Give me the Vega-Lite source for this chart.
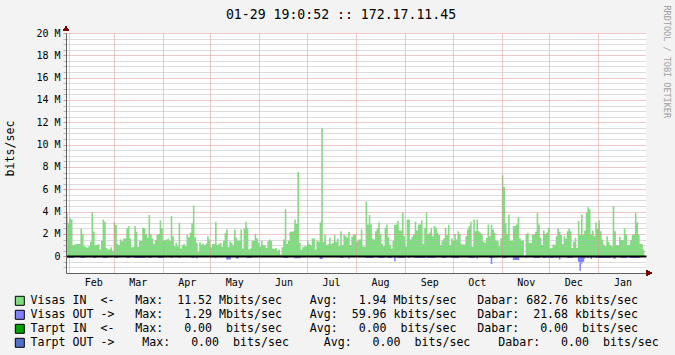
{
"$schema": "https://vega.github.io/schema/vega-lite/v6.json",
"width": 580, "height": 240,
"autosize": {"type": "none"},
"padding": {"left": 66, "top": 33, "right": 29, "bottom": 82},
"background": "#f3f3f3",
"config": {"view": {"fill": "#ffffff", "stroke": null}, "font": "DejaVu Sans Mono"},
"title": {"text": "01-29 19:0:52 :: 172.17.11.45", "font": "DejaVu Sans Mono", "fontSize": 13.2, "fontWeight": "normal", "color": "#000000", "anchor": "middle", "frame": "group", "baseline": "alphabetic", "offset": 0, "dx": -15, "dy": 27},
"data": {"values": [
{"date":"2010-01-30","in":3.9,"out":-0.02},{"date":"2010-01-31","in":3.0,"out":-0.15},
{"date":"2010-02-01","in":3.4,"out":-0.15},{"date":"2010-02-02","in":3.3,"out":-0.15},{"date":"2010-02-03","in":1.0,"out":-0.15},{"date":"2010-02-04","in":1.05,"out":-0.02},{"date":"2010-02-05","in":1.1,"out":-0.02},{"date":"2010-02-06","in":1.1,"out":-0.02},{"date":"2010-02-07","in":1.1,"out":-0.02},{"date":"2010-02-08","in":2.45,"out":-0.15},{"date":"2010-02-09","in":2.0,"out":-0.15},{"date":"2010-02-10","in":0.9,"out":-0.15},{"date":"2010-02-11","in":0.85,"out":-0.02},{"date":"2010-02-12","in":0.75,"out":-0.02},{"date":"2010-02-13","in":0.9,"out":-0.02},{"date":"2010-02-14","in":1.3,"out":-0.02},{"date":"2010-02-15","in":3.95,"out":-0.02},{"date":"2010-02-16","in":2.2,"out":-0.15},{"date":"2010-02-17","in":1.0,"out":-0.15},{"date":"2010-02-18","in":1.0,"out":-0.02},{"date":"2010-02-19","in":1.1,"out":-0.02},{"date":"2010-02-20","in":0.6,"out":-0.02},{"date":"2010-02-21","in":1.4,"out":-0.02},{"date":"2010-02-22","in":3.3,"out":-0.15},{"date":"2010-02-23","in":3.1,"out":-0.15},{"date":"2010-02-24","in":0.75,"out":-0.15},{"date":"2010-02-25","in":0.6,"out":-0.02},{"date":"2010-02-26","in":0.6,"out":-0.02},{"date":"2010-02-27","in":0.8,"out":-0.02},{"date":"2010-02-28","in":0.5,"out":-0.02},
{"date":"2010-03-01","in":3.05,"out":-0.02},{"date":"2010-03-02","in":2.8,"out":-0.15},{"date":"2010-03-03","in":1.1,"out":-0.15},{"date":"2010-03-04","in":1.0,"out":-0.02},{"date":"2010-03-05","in":1.5,"out":-0.02},{"date":"2010-03-06","in":1.35,"out":-0.02},{"date":"2010-03-07","in":1.6,"out":-0.02},{"date":"2010-03-08","in":1.6,"out":-0.02},{"date":"2010-03-09","in":2.5,"out":-0.15},{"date":"2010-03-10","in":2.7,"out":-0.15},{"date":"2010-03-11","in":1.6,"out":-0.02},{"date":"2010-03-12","in":0.8,"out":-0.02},{"date":"2010-03-13","in":0.85,"out":-0.02},{"date":"2010-03-14","in":2.7,"out":-0.15},{"date":"2010-03-15","in":2.2,"out":-0.15},{"date":"2010-03-16","in":0.85,"out":-0.15},{"date":"2010-03-17","in":1.4,"out":-0.15},{"date":"2010-03-18","in":1.4,"out":-0.15},{"date":"2010-03-19","in":2.55,"out":-0.15},{"date":"2010-03-20","in":2.5,"out":-0.15},{"date":"2010-03-21","in":2.0,"out":-0.02},{"date":"2010-03-22","in":1.65,"out":-0.02},{"date":"2010-03-23","in":3.7,"out":-0.15},{"date":"2010-03-24","in":2.0,"out":-0.15},{"date":"2010-03-25","in":1.6,"out":-0.02},{"date":"2010-03-26","in":1.1,"out":-0.02},{"date":"2010-03-27","in":1.45,"out":-0.02},{"date":"2010-03-28","in":1.9,"out":-0.02},{"date":"2010-03-29","in":2.0,"out":-0.15},{"date":"2010-03-30","in":3.2,"out":-0.15},{"date":"2010-03-31","in":2.5,"out":-0.15},
{"date":"2010-04-01","in":1.4,"out":-0.02},{"date":"2010-04-02","in":1.45,"out":-0.02},{"date":"2010-04-03","in":1.5,"out":-0.02},{"date":"2010-04-04","in":1.6,"out":-0.02},{"date":"2010-04-05","in":1.4,"out":-0.02},{"date":"2010-04-06","in":3.6,"out":-0.15},{"date":"2010-04-07","in":1.8,"out":-0.02},{"date":"2010-04-08","in":0.9,"out":-0.02},{"date":"2010-04-09","in":1.2,"out":-0.02},{"date":"2010-04-10","in":0.9,"out":-0.02},{"date":"2010-04-11","in":3.0,"out":-0.15},{"date":"2010-04-12","in":0.7,"out":-0.02},{"date":"2010-04-13","in":1.0,"out":-0.02},{"date":"2010-04-14","in":1.1,"out":-0.02},{"date":"2010-04-15","in":0.9,"out":-0.02},{"date":"2010-04-16","in":1.9,"out":-0.02},{"date":"2010-04-17","in":1.7,"out":-0.02},{"date":"2010-04-18","in":2.1,"out":-0.02},{"date":"2010-04-19","in":2.95,"out":-0.15},{"date":"2010-04-20","in":4.55,"out":-0.15},{"date":"2010-04-21","in":1.7,"out":-0.02},{"date":"2010-04-22","in":1.2,"out":-0.2},{"date":"2010-04-23","in":0.4,"out":-0.02},{"date":"2010-04-24","in":1.25,"out":-0.02},{"date":"2010-04-25","in":1.05,"out":-0.02},{"date":"2010-04-26","in":1.15,"out":-0.02},{"date":"2010-04-27","in":1.0,"out":-0.02},{"date":"2010-04-28","in":1.15,"out":-0.02},{"date":"2010-04-29","in":1.8,"out":-0.02},{"date":"2010-04-30","in":1.5,"out":-0.02},
{"date":"2010-05-01","in":0.8,"out":-0.02},{"date":"2010-05-02","in":1.1,"out":-0.02},{"date":"2010-05-03","in":1.1,"out":-0.02},{"date":"2010-05-04","in":3.1,"out":-0.15},{"date":"2010-05-05","in":1.0,"out":-0.02},{"date":"2010-05-06","in":1.1,"out":-0.02},{"date":"2010-05-07","in":1.2,"out":-0.02},{"date":"2010-05-08","in":0.85,"out":-0.02},{"date":"2010-05-09","in":1.4,"out":-0.02},{"date":"2010-05-10","in":2.05,"out":-0.02},{"date":"2010-05-11","in":2.4,"out":-0.3},{"date":"2010-05-12","in":0.8,"out":-0.3},{"date":"2010-05-13","in":1.35,"out":-0.3},{"date":"2010-05-14","in":1.2,"out":-0.02},{"date":"2010-05-15","in":1.0,"out":-0.02},{"date":"2010-05-16","in":2.4,"out":-0.02},{"date":"2010-05-17","in":1.65,"out":-0.2},{"date":"2010-05-18","in":1.4,"out":-0.2},{"date":"2010-05-19","in":1.4,"out":-0.02},{"date":"2010-05-20","in":2.4,"out":-0.02},{"date":"2010-05-21","in":0.7,"out":-0.02},{"date":"2010-05-22","in":2.5,"out":-0.02},{"date":"2010-05-23","in":3.1,"out":-0.02},{"date":"2010-05-24","in":2.55,"out":-0.15},{"date":"2010-05-25","in":0.6,"out":-0.15},{"date":"2010-05-26","in":0.7,"out":-0.15},{"date":"2010-05-27","in":1.4,"out":-0.02},{"date":"2010-05-28","in":1.4,"out":-0.02},{"date":"2010-05-29","in":2.0,"out":-0.02},{"date":"2010-05-30","in":1.6,"out":-0.02},{"date":"2010-05-31","in":1.2,"out":-0.02},
{"date":"2010-06-01","in":0.85,"out":-0.02},{"date":"2010-06-02","in":1.4,"out":-0.02},{"date":"2010-06-03","in":1.0,"out":-0.02},{"date":"2010-06-04","in":1.0,"out":-0.02},{"date":"2010-06-05","in":0.75,"out":-0.02},{"date":"2010-06-06","in":1.35,"out":-0.02},{"date":"2010-06-07","in":1.5,"out":-0.02},{"date":"2010-06-08","in":1.4,"out":-0.02},{"date":"2010-06-09","in":0.7,"out":-0.02},{"date":"2010-06-10","in":0.65,"out":-0.02},{"date":"2010-06-11","in":0.75,"out":-0.02},{"date":"2010-06-12","in":0.5,"out":-0.02},{"date":"2010-06-13","in":0.6,"out":-0.02},{"date":"2010-06-14","in":0.15,"out":-0.02},{"date":"2010-06-15","in":0.8,"out":-0.02},{"date":"2010-06-16","in":1.5,"out":-0.15},{"date":"2010-06-17","in":4.2,"out":-0.15},{"date":"2010-06-18","in":1.1,"out":-0.15},{"date":"2010-06-19","in":1.4,"out":-0.02},{"date":"2010-06-20","in":2.2,"out":-0.02},{"date":"2010-06-21","in":2.2,"out":-0.02},{"date":"2010-06-22","in":2.25,"out":-0.02},{"date":"2010-06-23","in":3.3,"out":-0.18},{"date":"2010-06-24","in":2.9,"out":-0.18},{"date":"2010-06-25","in":7.55,"out":-0.18},{"date":"2010-06-26","in":1.2,"out":-0.18},{"date":"2010-06-27","in":0.55,"out":-0.02},{"date":"2010-06-28","in":0.8,"out":-0.02},{"date":"2010-06-29","in":0.9,"out":-0.02},{"date":"2010-06-30","in":0.9,"out":-0.02},
{"date":"2010-07-01","in":1.4,"out":-0.02},{"date":"2010-07-02","in":1.1,"out":-0.02},{"date":"2010-07-03","in":1.0,"out":-0.02},{"date":"2010-07-04","in":1.6,"out":-0.02},{"date":"2010-07-05","in":1.6,"out":-0.02},{"date":"2010-07-06","in":0.6,"out":-0.02},{"date":"2010-07-07","in":1.4,"out":-0.02},{"date":"2010-07-08","in":1.3,"out":-0.02},{"date":"2010-07-09","in":3.05,"out":-0.25},{"date":"2010-07-10","in":11.52,"out":-0.25},{"date":"2010-07-11","in":1.3,"out":-0.02},{"date":"2010-07-12","in":1.95,"out":-0.02},{"date":"2010-07-13","in":1.0,"out":-0.02},{"date":"2010-07-14","in":1.1,"out":-0.02},{"date":"2010-07-15","in":1.65,"out":-0.02},{"date":"2010-07-16","in":1.1,"out":-0.02},{"date":"2010-07-17","in":1.2,"out":-0.02},{"date":"2010-07-18","in":1.9,"out":-0.02},{"date":"2010-07-19","in":1.3,"out":-0.02},{"date":"2010-07-20","in":1.6,"out":-0.02},{"date":"2010-07-21","in":0.9,"out":-0.02},{"date":"2010-07-22","in":2.25,"out":-0.15},{"date":"2010-07-23","in":1.0,"out":-0.15},{"date":"2010-07-24","in":1.9,"out":-0.02},{"date":"2010-07-25","in":1.8,"out":-0.02},{"date":"2010-07-26","in":1.65,"out":-0.02},{"date":"2010-07-27","in":2.2,"out":-0.2},{"date":"2010-07-28","in":1.0,"out":-0.02},{"date":"2010-07-29","in":1.75,"out":-0.02},{"date":"2010-07-30","in":1.95,"out":-0.02},{"date":"2010-07-31","in":1.95,"out":-0.02},
{"date":"2010-08-01","in":1.3,"out":-0.02},{"date":"2010-08-02","in":1.5,"out":-0.02},{"date":"2010-08-03","in":1.5,"out":-0.02},{"date":"2010-08-04","in":2.4,"out":-0.02},{"date":"2010-08-05","in":0.9,"out":-0.02},{"date":"2010-08-06","in":0.85,"out":-0.02},{"date":"2010-08-07","in":4.9,"out":-0.15},{"date":"2010-08-08","in":2.85,"out":-0.15},{"date":"2010-08-09","in":3.7,"out":-0.15},{"date":"2010-08-10","in":2.85,"out":-0.15},{"date":"2010-08-11","in":1.6,"out":-0.15},{"date":"2010-08-12","in":1.5,"out":-0.02},{"date":"2010-08-13","in":2.25,"out":-0.02},{"date":"2010-08-14","in":2.5,"out":-0.02},{"date":"2010-08-15","in":3.05,"out":-0.15},{"date":"2010-08-16","in":2.0,"out":-0.15},{"date":"2010-08-17","in":1.1,"out":-0.15},{"date":"2010-08-18","in":0.9,"out":-0.15},{"date":"2010-08-19","in":2.55,"out":-0.02},{"date":"2010-08-20","in":2.85,"out":-0.02},{"date":"2010-08-21","in":1.7,"out":-0.15},{"date":"2010-08-22","in":1.05,"out":-0.15},{"date":"2010-08-23","in":0.7,"out":-0.15},{"date":"2010-08-24","in":1.4,"out":-0.02},{"date":"2010-08-25","in":2.8,"out":-0.45},{"date":"2010-08-26","in":2.85,"out":-0.02},{"date":"2010-08-27","in":3.15,"out":-0.15},{"date":"2010-08-28","in":2.3,"out":-0.15},{"date":"2010-08-29","in":2.3,"out":-0.15},{"date":"2010-08-30","in":3.9,"out":-0.15},{"date":"2010-08-31","in":1.8,"out":-0.15},
{"date":"2010-09-01","in":0.85,"out":-0.02},{"date":"2010-09-02","in":3.3,"out":-0.02},{"date":"2010-09-03","in":3.3,"out":-0.15},{"date":"2010-09-04","in":1.5,"out":-0.02},{"date":"2010-09-05","in":1.75,"out":-0.02},{"date":"2010-09-06","in":1.95,"out":-0.02},{"date":"2010-09-07","in":3.1,"out":-0.15},{"date":"2010-09-08","in":2.3,"out":-0.15},{"date":"2010-09-09","in":2.85,"out":-0.15},{"date":"2010-09-10","in":2.85,"out":-0.15},{"date":"2010-09-11","in":3.2,"out":-0.15},{"date":"2010-09-12","in":1.1,"out":-0.15},{"date":"2010-09-13","in":2.55,"out":-0.15},{"date":"2010-09-14","in":3.9,"out":-0.02},{"date":"2010-09-15","in":2.0,"out":-0.15},{"date":"2010-09-16","in":2.1,"out":-0.15},{"date":"2010-09-17","in":2.55,"out":-0.15},{"date":"2010-09-18","in":1.8,"out":-0.15},{"date":"2010-09-19","in":2.7,"out":-0.15},{"date":"2010-09-20","in":2.55,"out":-0.02},{"date":"2010-09-21","in":2.1,"out":-0.02},{"date":"2010-09-22","in":1.9,"out":-0.02},{"date":"2010-09-23","in":1.0,"out":-0.02},{"date":"2010-09-24","in":1.4,"out":-0.15},{"date":"2010-09-25","in":1.6,"out":-0.15},{"date":"2010-09-26","in":2.55,"out":-0.15},{"date":"2010-09-27","in":1.9,"out":-0.02},{"date":"2010-09-28","in":2.8,"out":-0.02},{"date":"2010-09-29","in":1.0,"out":-0.02},{"date":"2010-09-30","in":1.6,"out":-0.15},
{"date":"2010-10-01","in":1.4,"out":-0.15},{"date":"2010-10-02","in":2.0,"out":-0.15},{"date":"2010-10-03","in":1.5,"out":-0.15},{"date":"2010-10-04","in":2.25,"out":-0.15},{"date":"2010-10-05","in":2.0,"out":-0.02},{"date":"2010-10-06","in":1.1,"out":-0.02},{"date":"2010-10-07","in":1.05,"out":-0.02},{"date":"2010-10-08","in":1.05,"out":-0.02},{"date":"2010-10-09","in":1.8,"out":-0.02},{"date":"2010-10-10","in":2.4,"out":-0.02},{"date":"2010-10-11","in":2.7,"out":-0.15},{"date":"2010-10-12","in":3.1,"out":-0.15},{"date":"2010-10-13","in":0.85,"out":-0.15},{"date":"2010-10-14","in":3.3,"out":-0.15},{"date":"2010-10-15","in":2.25,"out":-0.02},{"date":"2010-10-16","in":3.3,"out":-0.2},{"date":"2010-10-17","in":2.25,"out":-0.02},{"date":"2010-10-18","in":2.1,"out":-0.02},{"date":"2010-10-19","in":1.95,"out":-0.02},{"date":"2010-10-20","in":1.3,"out":-0.02},{"date":"2010-10-21","in":1.2,"out":-0.02},{"date":"2010-10-22","in":1.65,"out":-0.02},{"date":"2010-10-23","in":2.85,"out":-0.02},{"date":"2010-10-24","in":1.8,"out":-0.15},{"date":"2010-10-25","in":2.8,"out":-0.7},{"date":"2010-10-26","in":2.4,"out":-0.15},{"date":"2010-10-27","in":2.1,"out":-0.02},{"date":"2010-10-28","in":1.4,"out":-0.02},{"date":"2010-10-29","in":1.4,"out":-0.02},{"date":"2010-10-30","in":0.9,"out":-0.02},{"date":"2010-10-31","in":1.6,"out":-0.02},
{"date":"2010-11-01","in":7.25,"out":-0.15},{"date":"2010-11-02","in":6.2,"out":-0.15},{"date":"2010-11-03","in":3.0,"out":-0.15},{"date":"2010-11-04","in":1.95,"out":-0.02},{"date":"2010-11-05","in":3.75,"out":-0.02},{"date":"2010-11-06","in":1.4,"out":-0.02},{"date":"2010-11-07","in":1.4,"out":-0.02},{"date":"2010-11-08","in":2.7,"out":-0.33},{"date":"2010-11-09","in":2.7,"out":-0.33},{"date":"2010-11-10","in":2.85,"out":-0.33},{"date":"2010-11-11","in":3.5,"out":-0.33},{"date":"2010-11-12","in":1.6,"out":-0.02},{"date":"2010-11-13","in":1.4,"out":-0.02},{"date":"2010-11-14","in":1.4,"out":-0.02},{"date":"2010-11-15","in":0,"out":0},{"date":"2010-11-16","in":2.0,"out":-0.15},{"date":"2010-11-17","in":2.1,"out":-0.02},{"date":"2010-11-18","in":1.2,"out":-0.02},{"date":"2010-11-19","in":1.2,"out":-0.02},{"date":"2010-11-20","in":1.95,"out":-0.02},{"date":"2010-11-21","in":1.95,"out":-0.15},{"date":"2010-11-22","in":2.2,"out":-0.15},{"date":"2010-11-23","in":3.9,"out":-0.15},{"date":"2010-11-24","in":2.85,"out":-0.15},{"date":"2010-11-25","in":1.65,"out":-0.02},{"date":"2010-11-26","in":1.0,"out":-0.02},{"date":"2010-11-27","in":2.3,"out":-0.15},{"date":"2010-11-28","in":2.0,"out":-0.15},{"date":"2010-11-29","in":2.1,"out":-0.02},{"date":"2010-11-30","in":2.55,"out":-0.15},
{"date":"2010-12-01","in":0.7,"out":-0.15},{"date":"2010-12-02","in":0.75,"out":-0.15},{"date":"2010-12-03","in":1.05,"out":-0.15},{"date":"2010-12-04","in":1.0,"out":-0.02},{"date":"2010-12-05","in":1.8,"out":-0.15},{"date":"2010-12-06","in":2.5,"out":-0.02},{"date":"2010-12-07","in":2.2,"out":-0.3},{"date":"2010-12-08","in":1.9,"out":-0.02},{"date":"2010-12-09","in":1.1,"out":-0.02},{"date":"2010-12-10","in":1.8,"out":-0.02},{"date":"2010-12-11","in":1.6,"out":-0.02},{"date":"2010-12-12","in":2.25,"out":-0.15},{"date":"2010-12-13","in":2.5,"out":-0.15},{"date":"2010-12-14","in":2.25,"out":-0.15},{"date":"2010-12-15","in":0.75,"out":-0.15},{"date":"2010-12-16","in":1.3,"out":-0.02},{"date":"2010-12-17","in":1.65,"out":-0.02},{"date":"2010-12-18","in":0.75,"out":-0.02},{"date":"2010-12-19","in":3.15,"out":-0.5},{"date":"2010-12-20","in":1.9,"out":-1.29},{"date":"2010-12-21","in":3.75,"out":-0.65},{"date":"2010-12-22","in":1.95,"out":-0.5},{"date":"2010-12-23","in":2.3,"out":-0.2},{"date":"2010-12-24","in":3.9,"out":-0.02},{"date":"2010-12-25","in":4.4,"out":-0.15},{"date":"2010-12-26","in":4.2,"out":-0.02},{"date":"2010-12-27","in":1.95,"out":-0.25},{"date":"2010-12-28","in":2.3,"out":-0.02},{"date":"2010-12-29","in":1.8,"out":-0.02},{"date":"2010-12-30","in":3.05,"out":-0.15},{"date":"2010-12-31","in":2.5,"out":-0.15},
{"date":"2011-01-01","in":3.2,"out":-0.15},{"date":"2011-01-02","in":2.25,"out":-0.15},{"date":"2011-01-03","in":1.5,"out":-0.15},{"date":"2011-01-04","in":1.05,"out":-0.15},{"date":"2011-01-05","in":0.9,"out":-0.15},{"date":"2011-01-06","in":1.8,"out":-0.15},{"date":"2011-01-07","in":1.3,"out":-0.15},{"date":"2011-01-08","in":1.0,"out":-0.15},{"date":"2011-01-09","in":0.9,"out":-0.02},{"date":"2011-01-10","in":4.5,"out":-0.2},{"date":"2011-01-11","in":2.25,"out":-0.2},{"date":"2011-01-12","in":1.0,"out":-0.02},{"date":"2011-01-13","in":1.0,"out":-0.02},{"date":"2011-01-14","in":1.75,"out":-0.02},{"date":"2011-01-15","in":1.45,"out":-0.15},{"date":"2011-01-16","in":1.45,"out":-0.15},{"date":"2011-01-17","in":2.5,"out":-0.15},{"date":"2011-01-18","in":1.95,"out":-0.15},{"date":"2011-01-19","in":1.0,"out":-0.02},{"date":"2011-01-20","in":1.0,"out":-0.02},{"date":"2011-01-21","in":1.45,"out":-0.15},{"date":"2011-01-22","in":1.95,"out":-0.15},{"date":"2011-01-23","in":1.95,"out":-0.15},{"date":"2011-01-24","in":3.9,"out":-0.15},{"date":"2011-01-25","in":3.05,"out":-0.15},{"date":"2011-01-26","in":1.95,"out":-0.15},{"date":"2011-01-27","in":1.1,"out":-0.02},{"date":"2011-01-28","in":1.1,"out":-0.02},{"date":"2011-01-29","in":0.6,"out":-0.02},{"date":"2011-01-30","in":0.6,"out":-0.02}
]},
"transform": [{"fold": ["in", "out"], "as": ["series", "value"]}],
"resolve": {"axis": {"y": "independent"}},
"layer": [
{
"mark": {"type": "area", "interpolate": "step-after", "opacity": 1, "clip": true},
"encoding": {
"x": {"field": "date", "type": "temporal",
 "scale": {"type": "utc", "domain": [{"year": 2010, "month": 1, "date": 29, "hours": 22, "utc": true}, {"year": 2011, "month": 1, "date": 31, "hours": 0, "minutes": 30, "utc": true}]},
 "axis": {"orient": "bottom", "tickCount": {"interval": "month", "step": 1}, "format": "%b", "labelOffset": 24, "labelFont": "DejaVu Sans Mono", "labelFontSize": 10, "labelColor": "#000000", "labelPadding": 4, "labelFlush": false, "labelOverlap": false, "ticks": false, "domain": true, "domainColor": "#606060", "grid": true, "gridColor": "#e09090", "gridDash": [1, 1], "title": null, "zindex": 1}},
"y": {"field": "value", "type": "quantitative", "stack": null,
 "scale": {"domain": [-1.5, 20], "nice": false, "zero": false},
 "axis": {"orient": "left", "values": [0, 2, 4, 6, 8, 10, 12, 14, 16, 18, 20], "labelExpr": "datum.value == 0 ? '0' : datum.value + ' M'", "labelFont": "DejaVu Sans Mono", "labelFontSize": 10, "labelColor": "#000000", "labelPadding": 3, "ticks": true, "tickSize": 3, "tickColor": "#e09090", "domain": true, "domainColor": "#606060", "grid": true,
  "gridColor": {"condition": {"test": "datum.value === 0", "value": "#000000"}, "value": "#e09090"},
  "gridDash": {"condition": {"test": "datum.value === 0", "value": []}, "value": [1, 1]},
  "gridWidth": {"condition": {"test": "datum.value === 0", "value": 2}, "value": 1},
  "title": "bits/sec", "titleFont": "DejaVu Sans Mono", "titleFontSize": 11.6, "titleFontWeight": "normal", "titleColor": "#000000", "titleX": -56, "titleY": 115, "titleAngle": -90, "titleAlign": "center", "titleBaseline": "middle", "zindex": 2}},
"color": {"field": "series", "type": "nominal",
 "scale": {"domain": ["in", "out", "tin", "tout"], "range": ["#7fdc7f", "#8080ff", "#00a000", "#5070c8"]},
 "legend": {"orient": "none", "legendX": -52, "legendY": 262, "direction": "vertical", "title": null, "padding": 0, "symbolType": "square", "symbolSize": 81, "symbolStrokeColor": "#000000", "symbolStrokeWidth": 1, "symbolOpacity": 1, "labelFont": "DejaVu Sans Mono", "labelFontSize": 11.6, "labelColor": "#000000", "labelLimit": 900, "labelOffset": 5, "rowPadding": 0,
  "labelExpr": "datum.value == 'in' ? 'Visas\u00a0IN\u00a0\u00a0<-\u00a0\u00a0\u00a0Max:\u00a0\u00a011.52\u00a0Mbits/sec\u00a0\u00a0\u00a0\u00a0Avg:\u00a0\u00a0\u00a01.94\u00a0Mbits/sec\u00a0\u00a0\u00a0Dabar:\u00a0682.76\u00a0kbits/sec' : datum.value == 'out' ? 'Visas\u00a0OUT\u00a0->\u00a0\u00a0\u00a0Max:\u00a0\u00a0\u00a01.29\u00a0Mbits/sec\u00a0\u00a0\u00a0\u00a0Avg:\u00a0\u00a059.96\u00a0kbits/sec\u00a0\u00a0\u00a0Dabar:\u00a0\u00a021.68\u00a0kbits/sec' : datum.value == 'tin' ? 'Tarpt\u00a0IN\u00a0\u00a0<-\u00a0\u00a0\u00a0Max:\u00a0\u00a0\u00a00.00\u00a0\u00a0bits/sec\u00a0\u00a0\u00a0\u00a0Avg:\u00a0\u00a0\u00a00.00\u00a0\u00a0bits/sec\u00a0\u00a0\u00a0Dabar:\u00a0\u00a0\u00a00.00\u00a0\u00a0bits/sec' : 'Tarpt\u00a0OUT\u00a0->\u00a0\u00a0\u00a0\u00a0Max:\u00a0\u00a0\u00a00.00\u00a0\u00a0bits/sec\u00a0\u00a0\u00a0\u00a0\u00a0Avg:\u00a0\u00a0\u00a00.00\u00a0\u00a0bits/sec\u00a0\u00a0\u00a0\u00a0Dabar:\u00a0\u00a0\u00a00.00\u00a0\u00a0bits/sec'"}}
}
},
{
"mark": {"type": "point", "opacity": 0},
"encoding": {
"y": {"field": "value", "type": "quantitative",
 "scale": {"domain": [-1.5, 20], "nice": false, "zero": false},
 "axis": {"orient": "left", "values": [-1, -0.5, 0.5, 1, 1.5, 2.5, 3, 3.5, 4.5, 5, 5.5, 6.5, 7, 7.5, 8.5, 9, 9.5, 10.5, 11, 11.5, 12.5, 13, 13.5, 14.5, 15, 15.5, 16.5, 17, 17.5, 18.5, 19, 19.5], "labels": false, "domain": false, "ticks": true, "tickSize": 3, "tickColor": "#b8b8b8", "grid": true, "gridColor": "#b8b8b8", "gridDash": [1, 1], "title": null, "zindex": 1}}
}
},
{
"mark": {"type": "point", "opacity": 0},
"encoding": {
"y": {"field": "value", "type": "quantitative",
 "scale": {"domain": [-1.5, 20], "nice": false, "zero": false},
 "axis": {"orient": "right", "labels": false, "ticks": false, "domain": false, "grid": false, "title": "RRDTOOL / TOBI OETIKER", "titleFont": "DejaVu Sans Mono", "titleFontSize": 8.5, "titleFontWeight": "normal", "titleColor": "#a0a0a0", "titleAngle": 90, "titleX": 20, "titleY": -28, "titleAlign": "left", "titleBaseline": "middle"}}
}
},
{
"mark": {"type": "point", "shape": "triangle-up", "filled": true, "color": "#7f0000", "size": 28, "opacity": 1, "clip": false},
"encoding": {
"x": {"datum": {"year": 2010, "month": 1, "date": 29, "hours": 22, "utc": true}, "type": "temporal"},
"y": {"datum": 20.4, "type": "quantitative", "scale": {"domain": [-1.5, 20], "nice": false, "zero": false}, "axis": null}
}
},
{
"mark": {"type": "point", "shape": "triangle-right", "filled": true, "color": "#7f0000", "size": 28, "opacity": 1, "clip": false},
"encoding": {
"x": {"datum": {"year": 2011, "month": 2, "date": 1, "hours": 22, "utc": true}, "type": "temporal"},
"y": {"datum": -1.5, "type": "quantitative", "scale": {"domain": [-1.5, 20], "nice": false, "zero": false}, "axis": null}
}
}
]
}
